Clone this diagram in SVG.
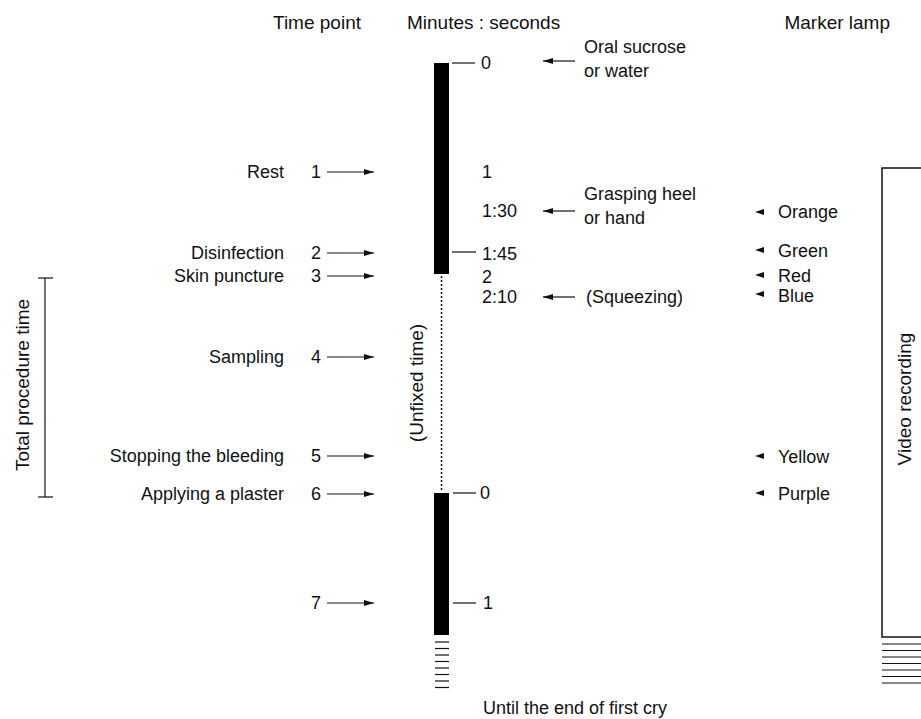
<svg xmlns="http://www.w3.org/2000/svg" width="921" height="719" viewBox="0 0 921 719">
<defs>
<style>
text{font-family:"Liberation Sans",Arial,sans-serif;font-size:18px;fill:#111}
.h{font-size:19px}
.rot{font-size:19px}
.r{text-anchor:end}
.ln{stroke:#111;stroke-width:1.2;fill:none}
.bar{fill:#000}
.tri{fill:#111}
</style>
<marker id="ah" viewBox="0 0 10 6" refX="10" refY="3" markerWidth="10" markerHeight="6" markerUnits="userSpaceOnUse" orient="auto">
<path d="M0,0 L10,3 L0,6 Z" fill="#111"/>
</marker>
</defs>
<rect width="921" height="719" fill="#fff"/>

<g id="headers">
<text x="273" y="29" class="h">Time point</text>
<text x="407" y="29" class="h">Minutes : seconds</text>
<text x="890" y="29" class="h r">Marker lamp</text>
</g>

<g id="timeline">
<rect class="bar" x="434" y="63" width="15" height="211"/>
<line x1="441.5" y1="276" x2="441.5" y2="492" stroke="#111" stroke-width="1.5" stroke-dasharray="2,2"/>
<rect class="bar" x="434" y="493" width="15" height="142"/>
<g class="ln">
<line x1="452" y1="63" x2="475" y2="63"/>
<line x1="452" y1="252" x2="476" y2="252"/>
<line x1="453" y1="493" x2="476" y2="493"/>
<line x1="453" y1="603" x2="476" y2="603"/>
<line x1="435" y1="642" x2="449" y2="642"/>
<line x1="435" y1="648.5" x2="449" y2="648.5"/>
<line x1="435" y1="655" x2="449" y2="655"/>
<line x1="435" y1="661.5" x2="449" y2="661.5"/>
<line x1="435" y1="668" x2="449" y2="668"/>
<line x1="435" y1="674.5" x2="449" y2="674.5"/>
<line x1="435" y1="681" x2="449" y2="681"/>
<line x1="435" y1="687.5" x2="449" y2="687.5"/>
</g>
<text x="423" y="383" transform="rotate(-90 423 383)" text-anchor="middle" class="rot">(Unfixed time)</text>
<text x="481" y="69">0</text>
<text x="482" y="178">1</text>
<text x="482" y="217">1:30</text>
<text x="482" y="260">1:45</text>
<text x="482" y="283">2</text>
<text x="482" y="303">2:10</text>
<text x="480" y="499">0</text>
<text x="483" y="609">1</text>
<text x="483" y="714">Until the end of first cry</text>
</g>

<g id="time-points">
<text x="284" y="178" class="r">Rest</text>
<text x="321" y="178" class="r">1</text>
<text x="284" y="259" class="r">Disinfection</text>
<text x="321" y="259" class="r">2</text>
<text x="284" y="282" class="r">Skin puncture</text>
<text x="321" y="282" class="r">3</text>
<text x="284" y="363" class="r">Sampling</text>
<text x="321" y="363" class="r">4</text>
<text x="284" y="462" class="r">Stopping the bleeding</text>
<text x="321" y="462" class="r">5</text>
<text x="284" y="500" class="r">Applying a plaster</text>
<text x="321" y="500" class="r">6</text>
<text x="321" y="609" class="r">7</text>
</g>

<g id="events">
<text x="584" y="53">Oral sucrose</text>
<text x="584" y="77">or water</text>
<text x="584" y="200">Grasping heel</text>
<text x="584" y="224">or hand</text>
<text x="586" y="303">(Squeezing)</text>
</g>

<g id="total-procedure">
<line class="ln" x1="45" y1="278" x2="45" y2="497"/>
<line class="ln" x1="38" y1="278" x2="53" y2="278"/>
<line class="ln" x1="38" y1="497" x2="53" y2="497"/>
<text x="29" y="385" transform="rotate(-90 29 385)" text-anchor="middle" class="rot">Total procedure time</text>
</g>

<g id="marker-lamps">
<path class="tri" d="M755,212 L764,209 L764,215 Z"/>
<text x="778" y="218">Orange</text>
<path class="tri" d="M755,250 L764,247 L764,253 Z"/>
<text x="778" y="257">Green</text>
<path class="tri" d="M755,275 L764,272 L764,278 Z"/>
<text x="778" y="282">Red</text>
<path class="tri" d="M755,294 L764,291 L764,297 Z"/>
<text x="778" y="302">Blue</text>
<path class="tri" d="M755,456 L764,453 L764,459 Z"/>
<text x="778" y="463">Yellow</text>
<path class="tri" d="M755,493 L764,490 L764,496 Z"/>
<text x="778" y="500">Purple</text>
</g>

<g id="video-recording">
<rect x="882" y="168" width="60" height="469" fill="none" stroke="#111" stroke-width="1.5"/>
<g class="ln">
<line x1="882" y1="644" x2="921" y2="644"/>
<line x1="882" y1="650.5" x2="921" y2="650.5"/>
<line x1="882" y1="657" x2="921" y2="657"/>
<line x1="882" y1="663.5" x2="921" y2="663.5"/>
<line x1="882" y1="670" x2="921" y2="670"/>
<line x1="882" y1="676.5" x2="921" y2="676.5"/>
<line x1="882" y1="683" x2="921" y2="683"/>
</g>
<text x="911" y="399" transform="rotate(-90 911 399)" text-anchor="middle" class="rot">Video recording</text>
</g>

<g id="connectors" class="ln">
<line x1="327" y1="172" x2="374" y2="172" marker-end="url(#ah)"/>
<line x1="327" y1="253" x2="374" y2="253" marker-end="url(#ah)"/>
<line x1="327" y1="276" x2="374" y2="276" marker-end="url(#ah)"/>
<line x1="327" y1="357" x2="374" y2="357" marker-end="url(#ah)"/>
<line x1="327" y1="456" x2="374" y2="456" marker-end="url(#ah)"/>
<line x1="327" y1="494" x2="374" y2="494" marker-end="url(#ah)"/>
<line x1="327" y1="603" x2="374" y2="603" marker-end="url(#ah)"/>
<line x1="575" y1="61" x2="543" y2="61" marker-end="url(#ah)"/>
<line x1="575" y1="211" x2="543" y2="211" marker-end="url(#ah)"/>
<line x1="575" y1="297" x2="543" y2="297" marker-end="url(#ah)"/>
</g>
</svg>
